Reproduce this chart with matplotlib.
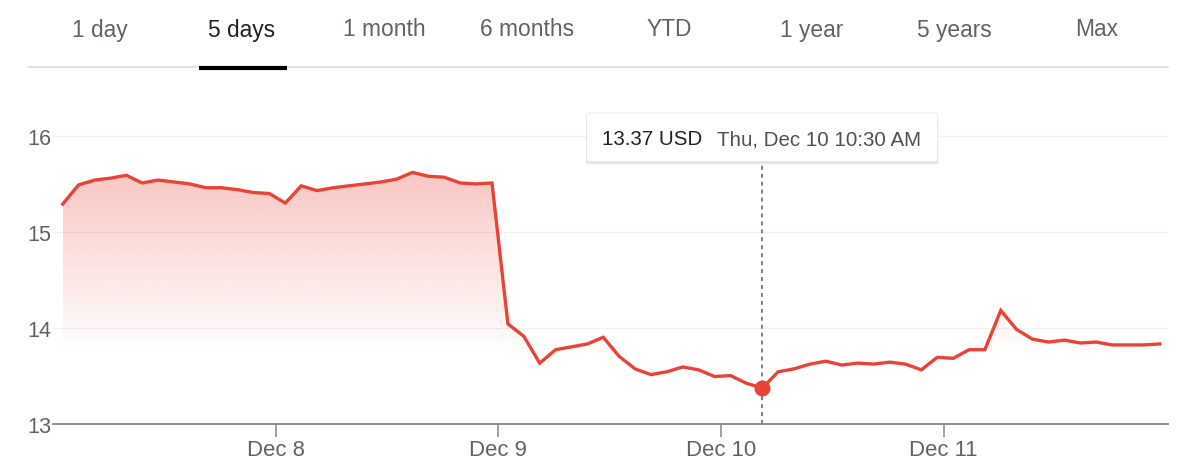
import numpy as np
import matplotlib
matplotlib.use("Agg")
import matplotlib.pyplot as plt
from matplotlib.patches import FancyBboxPatch, Polygon

plt.rcParams['font.family'] = ['Liberation Sans', 'DejaVu Sans']

# ---------------- data ----------------
tabs = ["1 day", "5 days", "1 month", "6 months", "YTD", "1 year", "5 years", "Max"]
selected_tab = "5 days"
day_labels = ["Dec 8", "Dec 9", "Dec 10", "Dec 11"]
points_per_day = 14
prices = [
    15.29, 15.49, 15.54, 15.56, 15.59, 15.51, 15.54, 15.52, 15.50, 15.46,
    15.46, 15.44, 15.41, 15.40, 15.30, 15.48, 15.43, 15.46, 15.48, 15.50,
    15.52, 15.55, 15.62, 15.58, 15.57, 15.51, 15.50, 15.51, 14.04, 13.91,
    13.63, 13.77, 13.80, 13.83, 13.90, 13.70, 13.57, 13.51, 13.54, 13.59,
    13.56, 13.49, 13.50, 13.42, 13.37, 13.54, 13.57, 13.62, 13.65, 13.61,
    13.63, 13.62, 13.64, 13.62, 13.56, 13.69, 13.68, 13.77, 13.77, 14.18,
    13.98, 13.88, 13.85, 13.87, 13.84, 13.85, 13.82, 13.82, 13.82, 13.83,
]
y_ticks = [13, 14, 15, 16]
hover_index = 44
hover_price = "13.37 USD"
hover_time = "Thu, Dec 10 10:30 AM"

# ---------------- figure ----------------
W, H = 1200, 477
fig = plt.figure(figsize=(W / 100, H / 100), dpi=100)

def fx(x):
    return x / W

def fy(y):
    return 1 - y / H

RED = '#ea4335'
GRAY_TXT = '#5f6368'
AXIS_GRAY = '#80868b'

# tabs
for i, t in enumerate(tabs):
    cx = 99.5 + 142.4 * i
    col = '#202124' if t == selected_tab else GRAY_TXT
    fig.text(fx(cx), fy(30), t, ha='center', va='center', fontsize=16.4, color=col)
fig.add_artist(plt.Line2D([fx(28), fx(1168)], [fy(68), fy(68)], color='#dadce0', lw=1.2))
sel = tabs.index(selected_tab)
scx = 99.5 + 142.4 * sel
fig.add_artist(plt.Line2D([fx(scx - 43), fx(scx + 45)], [fy(68.5), fy(68.5)], color='#000000', lw=3.0,
                          solid_capstyle='butt'))

# axes
left, right, bottom, top = 53, 1168, 424.5, 89.1
ax = fig.add_axes([fx(left), fy(bottom), (right - left) / W, (bottom - top) / H])
x = np.arange(len(prices))
px_per_pt = 15.9
x0 = (left - 62.7) / px_per_pt
x1 = (right - 62.7) / px_per_pt
ax.set_xlim(x0, x1)
ax.set_ylim(13, 16.5)

for s in ax.spines.values():
    s.set_visible(False)
ax.spines['bottom'].set_visible(True)
ax.spines['bottom'].set_color(AXIS_GRAY)
ax.spines['bottom'].set_linewidth(1.3)

for yt in y_ticks[1:]:
    ax.axhline(yt, color='#f1f1f1', lw=1.0, zorder=0)

ax.set_yticks(y_ticks)
ax.set_yticklabels([str(v) for v in y_ticks])
ax.tick_params(axis='y', length=0, pad=1, labelsize=15.6, labelcolor=GRAY_TXT)

tick_pos = [points_per_day * (d + 1) - 0.6 for d in range(len(day_labels))]
ax.set_xticks(tick_pos)
ax.set_xticklabels(day_labels)
ax.tick_params(axis='x', length=9, width=1.1, color=AXIS_GRAY, pad=2.5, labelsize=15.9, labelcolor=GRAY_TXT)

# gradient fill under the line
y = np.array(prices)
poly_xy = np.vstack([np.column_stack([x, y]), [[x[-1], 13], [x[0], 13]]])
poly = Polygon(poly_xy, closed=True, facecolor='none', edgecolor='none')
ax.add_patch(poly)
gy = np.linspace(13, 16, 400)
alpha = 0.30 * np.clip((gy - 13.72) / (15.62 - 13.72), 0, 1)
rgba = np.zeros((400, 1, 4))
rgba[..., 0] = 234 / 255
rgba[..., 1] = 67 / 255
rgba[..., 2] = 53 / 255
rgba[:, 0, 3] = alpha
im = ax.imshow(rgba, extent=[x[0], x[-1], 13, 16], origin='lower', aspect='auto', zorder=1,
               interpolation='bilinear')
im.set_clip_path(poly)

ax.plot(x, y, color=RED, lw=2.4, zorder=3, solid_joinstyle='miter')

# hover line and marker (from axis up to the tooltip bottom)
ax.plot([x[hover_index], x[hover_index]], [13, 15.73], color='#757575', lw=1.3,
        linestyle=(0, (2.2, 2.2)), zorder=2)
ax.plot([x[hover_index]], [y[hover_index]], 'o', color=RED, markersize=10.5, zorder=4)

# tooltip
bx0, by0, bx1, by1 = 586.7, 114, 937.7, 162.7
for k, a in enumerate([0.05, 0.04, 0.03]):
    sh = FancyBboxPatch((fx(bx0 - 0.5), fy(by1 + 1.5 + k)), (bx1 - bx0 + 1) / W, (by1 - by0) / H,
                        boxstyle='round,pad=0,rounding_size=0.003', transform=fig.transFigure,
                        facecolor='black', edgecolor='none', alpha=a, zorder=5)
    fig.add_artist(sh)
box = FancyBboxPatch((fx(bx0), fy(by1)), (bx1 - bx0) / W, (by1 - by0) / H,
                     boxstyle='round,pad=0,rounding_size=0.003', transform=fig.transFigure,
                     facecolor='white', edgecolor='#e6e6e6', lw=0.6, zorder=6)
fig.add_artist(box)
fig.text(fx(601.7), fy(139.5), hover_price, ha='left', va='center', fontsize=14.8, color='#202124', zorder=7)
fig.text(fx(716.7), fy(139.5), hover_time, ha='left', va='center', fontsize=14.8, color='#4d5156', zorder=7)

fig.savefig('out.png', dpi=100)
